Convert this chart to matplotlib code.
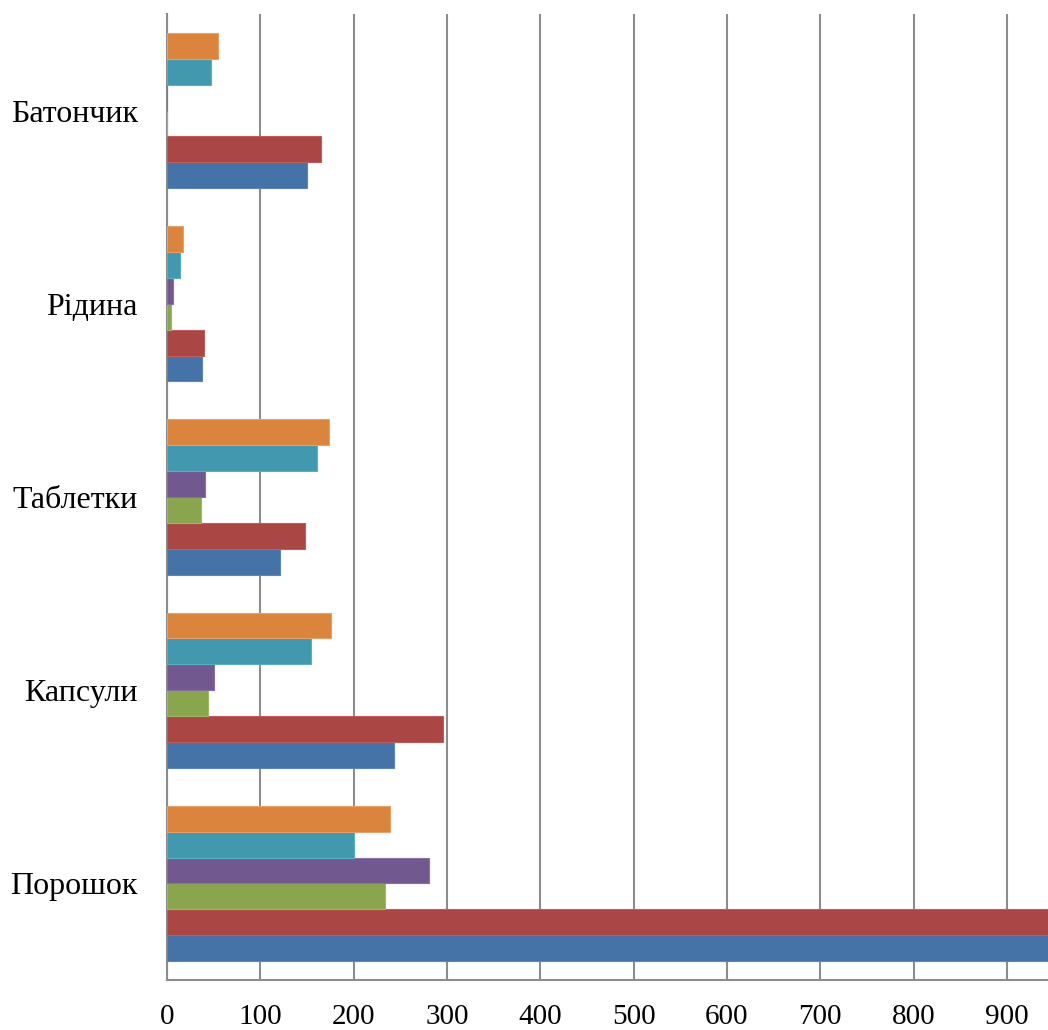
import matplotlib.pyplot as plt
import numpy as np

categories = ['Порошок', 'Капсули', 'Таблетки', 'Рідина', 'Батончик']

# series from bottom to top inside each group
series_names = ['Ряд 1', 'Ряд 2', 'Ряд 3', 'Ряд 4', 'Ряд 5', 'Ряд 6']
series_1 = [1000, 243, 121, 37, 150]
series_2 = [1000, 296, 148, 40, 165]
series_3 = [234, 44, 36, 4, 0]
series_4 = [281, 50, 41, 6, 0]
series_5 = [200, 154, 161, 14, 47]
series_6 = [239, 176, 174, 17, 55]
series_values = [series_1, series_2, series_3, series_4, series_5, series_6]

colors = ['#4572A7', '#AA4643', '#89A54E', '#71588F', '#4198AF', '#DB843D']
edges = ['#5B86B8', '#BC5E5B', '#9DB865', '#8670A3', '#5AAEC3', '#E8A06A']

plt.rcParams['font.family'] = ['Liberation Serif', 'DejaVu Serif']

fig = plt.figure(figsize=(10.48, 10.30), dpi=100)
ax = fig.add_axes([167 / 1048, 50 / 1030, 881 / 1048, 966 / 1030])

y = np.arange(len(categories))
h = 0.134
for i, vals in enumerate(series_values):
    ax.barh(y - 2.5 * h + i * h, vals, height=h, color=colors[i],
            edgecolor=edges[i], linewidth=0.8, label=series_names[i], zorder=3)

ax.set_xlim(0, 944)
ax.set_ylim(-0.5, 4.5)
ax.set_xticks(np.arange(0, 1000, 100))
ax.set_yticks(y)
ax.set_yticklabels(categories)
ax.grid(axis='x', color='#8C8C8C', linewidth=1.5, zorder=0)

for s in ['top', 'right']:
    ax.spines[s].set_visible(False)
for s in ['left', 'bottom']:
    ax.spines[s].set_color('#8C8C8C')
    ax.spines[s].set_linewidth(1.5)

ax.tick_params(axis='x', length=0, pad=17, labelsize=21)
ax.tick_params(axis='y', length=0, pad=21, labelsize=23)

fig.savefig('out.png', dpi=100)
